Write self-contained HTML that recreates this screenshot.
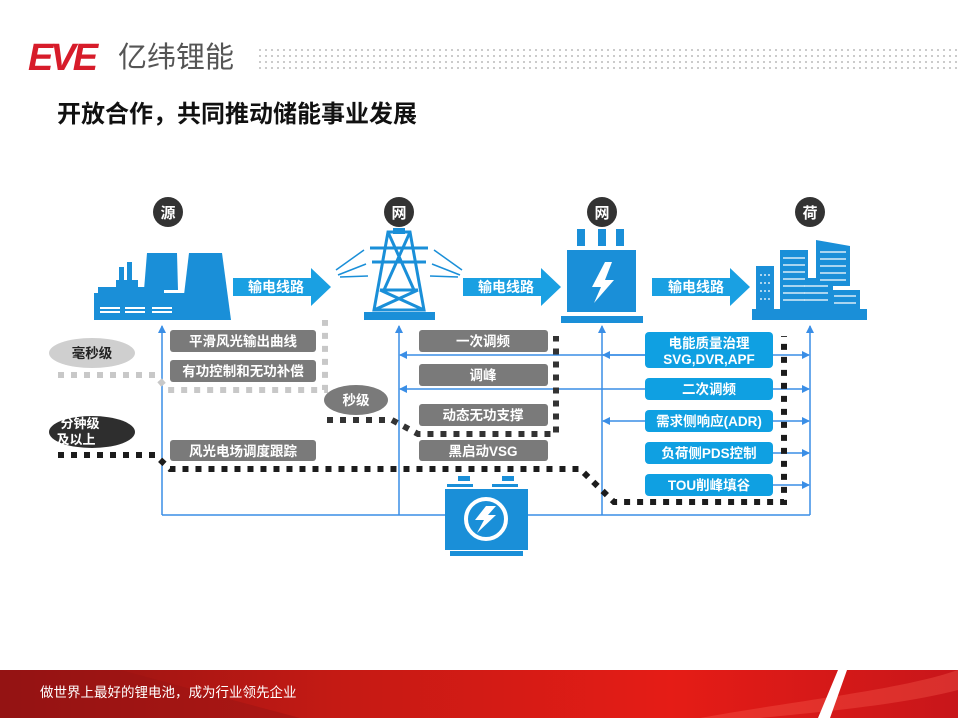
<!DOCTYPE html>
<html><head><meta charset="utf-8"><style>
html,body{margin:0;padding:0;background:#fff;}
body{width:958px;height:718px;position:relative;overflow:hidden;font-family:"Liberation Sans","Noto Sans CJK SC",sans-serif;}
svg{position:absolute;left:0;top:0;}
</style></head><body>
<svg width="958" height="718" viewBox="0 0 958 718" xmlns="http://www.w3.org/2000/svg" font-family="Liberation Sans, Noto Sans CJK SC, sans-serif">
<defs>
<pattern id="dots" width="6" height="6" patternUnits="userSpaceOnUse"><circle cx="2" cy="2" r="1" fill="#bbb"/></pattern>
<linearGradient id="red" x1="0" x2="1" y1="0" y2="0"><stop offset="0" stop-color="#8e1212"/><stop offset="0.35" stop-color="#c41a14"/><stop offset="0.7" stop-color="#e51c16"/><stop offset="1" stop-color="#c8161a"/></linearGradient>
<marker id="ar" markerWidth="8" markerHeight="8" refX="7" refY="4" orient="auto" markerUnits="userSpaceOnUse"><path d="M0,0 L8,4 L0,8 Z" fill="#3a8ee6"/></marker>
<marker id="al" markerWidth="8" markerHeight="8" refX="1" refY="4" orient="auto" markerUnits="userSpaceOnUse"><path d="M8,0 L0,4 L8,8 Z" fill="#3a8ee6"/></marker>
</defs>
<!-- logo -->
<text x="28" y="70" font-size="38" font-weight="bold" font-style="italic" fill="#d71c2a" letter-spacing="-3">EVE</text>
<text x="118" y="67" font-size="29" fill="#555" font-family="Liberation Sans, Noto Sans CJK SC, sans-serif">亿纬锂能</text>
<rect x="255" y="45" width="703" height="26" fill="url(#dots)"/>
<text x="57" y="122" font-size="24" font-weight="bold" fill="#111">开放合作，共同推动储能事业发展</text>

<!-- blue connector lines -->
<g stroke="#3a8ee6" stroke-width="1.5" fill="none">
<line x1="162" y1="515" x2="445" y2="515"/><line x1="527" y1="515" x2="810" y2="515"/>
<line x1="162" y1="515" x2="162" y2="326" marker-end="url(#ar)"/>
<line x1="399" y1="515" x2="399" y2="326" marker-end="url(#ar)"/>
<line x1="602" y1="515" x2="602" y2="326" marker-end="url(#ar)"/>
<line x1="810" y1="515" x2="810" y2="326" marker-end="url(#ar)"/>
<line x1="645" y1="355" x2="400" y2="355" marker-end="url(#ar)"/>
<line x1="645" y1="355" x2="603" y2="355" marker-end="url(#ar)"/>
<line x1="773" y1="355" x2="809" y2="355" marker-end="url(#ar)"/>
<line x1="645" y1="389" x2="400" y2="389" marker-end="url(#ar)"/>
<line x1="773" y1="389" x2="809" y2="389" marker-end="url(#ar)"/>
<line x1="645" y1="421" x2="603" y2="421" marker-end="url(#ar)"/>
<line x1="773" y1="421" x2="809" y2="421" marker-end="url(#ar)"/>
<line x1="773" y1="453" x2="809" y2="453" marker-end="url(#ar)"/>
<line x1="773" y1="485" x2="809" y2="485" marker-end="url(#ar)"/>
</g>

<!-- circles -->
<g font-size="15" font-weight="bold" fill="#fff" text-anchor="middle">
<circle cx="168" cy="212" r="15" fill="#333"/><text x="168" y="218">源</text>
<circle cx="399" cy="212" r="15" fill="#333"/><text x="399" y="218">网</text>
<circle cx="602" cy="212" r="15" fill="#333"/><text x="602" y="218">网</text>
<circle cx="810" cy="212" r="15" fill="#333"/><text x="810" y="218">荷</text>
</g>

<!-- factory -->
<g fill="#1a8fd8">
<rect x="119" y="267" width="5" height="18"/><rect x="127" y="262" width="5" height="23"/>
<rect x="116" y="280" width="22" height="10"/>
<path d="M147,253 L177,253 L178,290 L144,290 Z"/>
<path d="M189,253 L222,253 L231,320 L181,320 Z"/>
<rect x="98" y="287" width="66" height="8"/>
<rect x="94" y="293" width="114" height="27"/>
</g>
<g fill="#fff"><rect x="100" y="311" width="20" height="2"/><rect x="125" y="311" width="20" height="2"/><rect x="152" y="311" width="20" height="2"/><rect x="100" y="307" width="20" height="2"/><rect x="125" y="307" width="20" height="2"/><rect x="152" y="307" width="20" height="2"/></g>

<!-- arrows 输电线路 -->
<g fill="#1aa0e2">
<path d="M233,278 L311,278 L311,268 L331,287 L311,306 L311,296 L233,296 Z"/>
<path d="M463,278 L541,278 L541,268 L561,287 L541,306 L541,296 L463,296 Z"/>
<path d="M652,278 L730,278 L730,268 L750,287 L730,306 L730,296 L652,296 Z"/>
</g>
<g font-size="14" font-weight="bold" fill="#fff">
<text x="248" y="292">输电线路</text><text x="478" y="292">输电线路</text><text x="668" y="292">输电线路</text>
</g>

<!-- tower -->
<g stroke="#1a8fd8" fill="none" stroke-width="3">
<path d="M388,232 L410,232 L424,310 L374,310 Z"/>
<path d="M388,232 L414,290 M410,232 L384,290 M384,262 L414,262 M380,290 L418,290 M380,290 L424,310 M418,290 L374,310"/>
<path d="M370,248 L428,248 M372,262 L426,262"/>
</g>
<rect x="364" y="312" width="71" height="8" fill="#1a8fd8"/>
<rect x="393" y="228" width="12" height="6" fill="#1a8fd8"/>
<g stroke="#1a8fd8" stroke-width="1.5"><line x1="336" y1="270" x2="364" y2="250"/><line x1="338" y1="275" x2="366" y2="264"/><line x1="340" y1="277" x2="368" y2="276"/><line x1="462" y1="270" x2="434" y2="250"/><line x1="460" y1="275" x2="432" y2="264"/><line x1="458" y1="277" x2="430" y2="276"/></g>

<!-- transformer -->
<g fill="#1a8fd8">
<rect x="577" y="229" width="8" height="17"/><rect x="598" y="229" width="8" height="17"/><rect x="616" y="229" width="8" height="17"/>
<rect x="567" y="250" width="69" height="62"/>
<rect x="561" y="316" width="82" height="7"/>
</g>
<path d="M605,262 L592,287 L601,287 L594,303 L614,280 L605,280 L612,262 Z" fill="#fff"/>

<!-- buildings -->
<g fill="#1a8fd8">
<rect x="756" y="266" width="18" height="50"/>
<rect x="780" y="250" width="28" height="66"/>
<path d="M816,240 L850,246 L850,286 L816,286 Z"/>
<rect x="799" y="278" width="34" height="38"/>
<rect x="830" y="290" width="30" height="26"/>
<rect x="752" y="309" width="115" height="11"/>
</g>
<g stroke="#fff" stroke-width="1.2">
<path d="M783,258 H805 M783,265 H805 M783,272 H805 M783,279 H805 M783,286 H805 M783,293 H805 M783,300 H805"/>
<path d="M820,252 H846 M820,259 H846 M820,266 H846 M820,273 H846 M820,280 H846"/>
<path d="M804,286 H828 M804,293 H828 M804,300 H828"/>
<path d="M834,296 H856 M834,303 H856"/>
<path d="M760,275 H771 M760,283 H771 M760,291 H771 M760,299 H771" stroke-dasharray="2 2"/>
</g>

<!-- gray boxes -->
<g fill="#7a7a7a">
<rect x="170" y="330" width="146" height="22" rx="3"/><rect x="170" y="360" width="146" height="22" rx="3"/><rect x="170" y="440" width="146" height="21" rx="3"/>
<rect x="419" y="330" width="129" height="22" rx="3"/><rect x="419" y="364" width="129" height="22" rx="3"/><rect x="419" y="404" width="129" height="22" rx="3"/><rect x="419" y="440" width="129" height="21" rx="3"/>
</g>
<g font-size="13.5" font-weight="bold" fill="#fff" text-anchor="middle">
<text x="243" y="346">平滑风光输出曲线</text><text x="243" y="376">有功控制和无功补偿</text><text x="243" y="456">风光电场调度跟踪</text>
<text x="483" y="346">一次调频</text><text x="483" y="380">调峰</text><text x="483" y="420">动态无功支撑</text><text x="483" y="456">黑启动VSG</text>
</g>

<!-- blue boxes -->
<g fill="#0fa0e2">
<rect x="645" y="332" width="128" height="36" rx="4"/><rect x="645" y="378" width="128" height="22" rx="4"/><rect x="645" y="410" width="128" height="22" rx="4"/><rect x="645" y="442" width="128" height="22" rx="4"/><rect x="645" y="474" width="128" height="22" rx="4"/>
</g>
<g font-size="13.5" font-weight="bold" fill="#fff" text-anchor="middle">
<text x="709" y="348">电能质量治理</text><text x="709" y="364">SVG,DVR,APF</text>
<text x="709" y="394">二次调频</text><text x="709" y="426">需求侧响应(ADR)</text><text x="709" y="458">负荷侧PDS控制</text><text x="709" y="490">TOU削峰填谷</text>
</g>

<!-- dotted lines -->
<g fill="none" stroke-dasharray="6 7">
<path d="M58,375 L155,375 L168,390 L325,390 L325,320" stroke="#c8c8c8" stroke-width="6"/>
<path d="M327,420 L392,420 L418,434 L556,434 L556,336" stroke="#333" stroke-width="6"/>
<path d="M58,455 L155,455 L170,469 L580,469 L614,502 L784,502 L784,336" stroke="#1c1c1c" stroke-width="6"/>
</g>

<!-- ellipses -->
<ellipse cx="92" cy="353" rx="43" ry="15" fill="#cfcfcf"/>
<text x="92" y="358" font-size="13.5" font-weight="bold" fill="#222" text-anchor="middle">毫秒级</text>
<ellipse cx="356" cy="400" rx="32" ry="15" fill="#7a7a7a"/>
<text x="356" y="405" font-size="13.5" font-weight="bold" fill="#fff" text-anchor="middle">秒级</text>
<ellipse cx="92" cy="432" rx="43" ry="16" fill="#2e2e2e"/>
<text x="80" y="428" font-size="13" font-weight="bold" fill="#fff" text-anchor="middle">分钟级</text>
<text x="76" y="444" font-size="13" font-weight="bold" fill="#fff" text-anchor="middle">及以上</text>

<!-- battery -->
<g fill="#1a8fd8">
<rect x="458" y="476" width="12" height="5"/><rect x="502" y="476" width="12" height="5"/>
<rect x="447" y="484" width="26" height="3"/><rect x="492" y="484" width="26" height="3"/>
<rect x="445" y="489" width="83" height="61"/>
<rect x="450" y="551" width="73" height="5"/>
</g>
<circle cx="486" cy="519" r="20" fill="none" stroke="#fff" stroke-width="4"/>
<path d="M486,506 L475,520 L484,520 L477,533 L496,515 L488,515 L496,506 Z" fill="#fff"/>

<!-- footer -->
<rect x="0" y="670" width="958" height="48" fill="url(#red)"/>
<path d="M0,670 L120,670 L300,718 L0,718 Z" fill="#9a1414" opacity="0.5"/>
<path d="M700,718 C800,700 900,690 958,670 L958,690 C900,705 820,712 760,718 Z" fill="#ff6a5a" opacity="0.3"/>
<path d="M838,670 L847,670 L830,718 L818,718 Z" fill="#fff"/>
<text x="40" y="697" font-size="13.5" fill="#fff">做世界上最好的锂电池，成为行业领先企业</text>
</svg>
</body></html>
